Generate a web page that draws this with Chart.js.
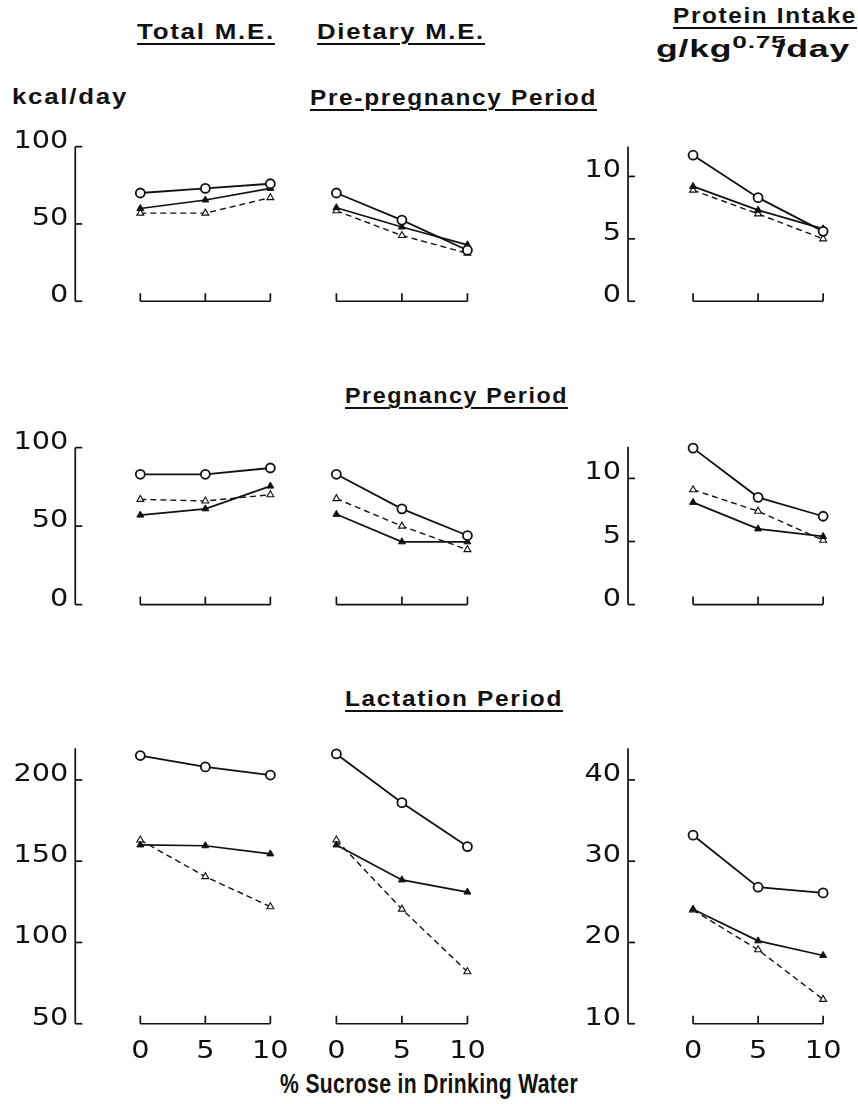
<!DOCTYPE html>
<html>
<head>
<meta charset="utf-8">
<script src="https://cdn.jsdelivr.net/npm/chart.js@4.4.1/dist/chart.umd.min.js"></script>
<style>
body{margin:0;background:#fff;width:858px;height:1104px;position:relative;overflow:hidden;
  font-family:"Liberation Sans","DejaVu Sans",sans-serif;font-weight:bold;color:#111}
.t{position:absolute;white-space:nowrap;line-height:1;transform-origin:0 0}
.u{text-decoration:underline;text-decoration-thickness:2px;text-underline-offset:4px}
canvas{position:absolute;left:0}
sup{font-size:17px;position:relative;top:-4px;vertical-align:top;margin-right:-7px}
</style>
</head>
<body>
<div class="t u" data-w="138" data-ls="1.5" style="left:137px;top:21px;font-size:22px">Total M.E.</div>
<div class="t u" data-w="168" data-ls="1.5" style="left:317px;top:21px;font-size:22px">Dietary M.E.</div>
<div class="t u" data-w="184" data-ls="1.5" style="left:673px;top:5px;font-size:22px">Protein Intake</div>
<div class="t" data-w="194" data-ls="0.5" style="left:656px;top:38px;font-size:23px">g/kg<sup>0.75</sup>/day</div>
<div class="t" data-w="116" data-ls="1.5" style="left:12px;top:86px;font-size:22px">kcal/day</div>
<div class="t u" data-w="287" data-ls="1.5" style="left:310px;top:87px;font-size:22px">Pre-pregnancy Period</div>
<div class="t u" data-w="223" data-ls="1.5" style="left:345px;top:385px;font-size:22px">Pregnancy Period</div>
<div class="t u" data-w="218" data-ls="1.5" style="left:345px;top:688px;font-size:22px">Lactation Period</div>
<div class="t" data-w="298" data-ls="0.5" style="left:280px;top:1070px;font-size:28px">% Sucrose in Drinking Water</div>

<canvas id="row1" width="858" height="200" style="top:120px"></canvas>
<canvas id="row2" width="858" height="205" style="top:420px"></canvas>
<canvas id="row3" width="858" height="340" style="top:730px"></canvas>

<script>
// % sucrose in drinking water
var sucrose = [0, 5, 10]

// Pre-pregnancy period
var preTotalCtrl   = [70, 73, 76]
var preTotalFilled = [60, 65.5, 73]
var preTotalOpen   = [57, 57, 67]
var preDietCtrl    = [70, 52.5, 33]
var preDietFilled  = [60.5, 48, 36.5]
var preDietOpen    = [58.5, 42.5, 31]
var preProtCtrl    = [11.7, 8.3, 5.6]
var preProtFilled  = [9.2, 7.3, 5.8]
var preProtOpen    = [8.9, 7.0, 5.0]

// Pregnancy period
var pregTotalCtrl   = [83, 83, 87]
var pregTotalFilled = [57, 61, 75.5]
var pregTotalOpen   = [67, 66, 70]
var pregDietCtrl    = [83, 61, 44]
var pregDietFilled  = [57.5, 40, 40]
var pregDietOpen    = [67.5, 50, 35]
var pregProtCtrl    = [12.4, 8.5, 7.0]
var pregProtFilled  = [8.1, 6.0, 5.4]
var pregProtOpen    = [9.1, 7.4, 5.1]

// Lactation period
var lacTotalCtrl   = [215, 208, 203]
var lacTotalFilled = [160, 159.5, 154.5]
var lacTotalOpen   = [163, 140.5, 122]
var lacDietCtrl    = [216, 186, 159]
var lacDietFilled  = [160, 138.5, 131]
var lacDietOpen    = [163, 120.5, 82]
var lacProtCtrl    = [33.2, 26.8, 26.1]
var lacProtFilled  = [24.1, 20.2, 18.4]
var lacProtOpen    = [24.0, 19.1, 13.0]

// tick labels
var kcalTicks  = [0, 50, 100]
var protTicks  = [0, 5, 10]
var kcalTicks3 = [50, 100, 150, 200]
var protTicks3 = [10, 20, 30, 40]
var xTickLabels = ["0", "5", "10"]

var INK = "#111"
var W = 858

// fit headings to the widths of the printed lettering
document.querySelectorAll(".t").forEach(function(el){
  el.style.letterSpacing = el.dataset.ls + "px"
  var w = el.getBoundingClientRect().width
  el.style.transform = "scaleX(" + (el.dataset.w / w) + ")"
})

var styles = {
  ctrl:   {borderColor: INK, borderWidth: 1.8, pointStyle: "circle", pointRadius: 4.5,
           pointBorderWidth: 1.8, pointBackgroundColor: "#fff", pointBorderColor: INK},
  filled: {borderColor: INK, borderWidth: 1.7, pointStyle: "triangle", pointRadius: 4,
           pointBorderWidth: 1, pointBackgroundColor: INK, pointBorderColor: INK},
  open:   {borderColor: INK, borderWidth: 1.4, borderDash: [6, 4], pointStyle: "triangle", pointRadius: 4,
           pointBorderWidth: 1.1, pointBackgroundColor: "#fff", pointBorderColor: INK}
}

function series(vals, kind, xID, yID){
  var d = {
    data: sucrose.map(function(s, i){ return {x: s, y: vals[i]} }),
    xAxisID: xID, yAxisID: yID, clip: false, tension: 0, fill: false
  }
  return Object.assign(d, styles[kind])
}

// value/pixel anchors -> min/max so the hidden scales fill the canvas
function xRange(a, b){
  var unit = (b[1] - a[1]) / (b[0] - a[0])
  return {min: a[0] - a[1] / unit, max: a[0] + (W - a[1]) / unit}
}
function yRange(H, top, a, b){
  var unit = (a[1] - b[1]) / (b[0] - a[0])
  var p0 = a[1] - top
  return {min: a[0] - (H - p0) / unit, max: a[0] + p0 / unit}
}

function wideText(ctx, txt, x, y, align){
  // the printed digits are rounder/wider than DejaVu, stretch them a bit
  var sx = 1.15
  var w = ctx.measureText(txt).width * sx
  var left = align == "right" ? x - w : align == "center" ? x - w / 2 : x
  ctx.save()
  ctx.textAlign = "left"
  ctx.translate(left, y)
  ctx.scale(sx, 1)
  ctx.fillText(txt, 0, 0)
  ctx.restore()
}

var panelAxes = {
  id: "panelAxes",
  afterDatasetsDraw: function(chart, args, o){
    var ctx = chart.ctx
    ctx.save()
    ctx.strokeStyle = INK
    ctx.fillStyle = INK
    ctx.lineWidth = 1.7
    ctx.textBaseline = "alphabetic"
    o.axes.forEach(function(a){
      var ys = chart.scales[a.y], xs = chart.scales[a.x]
      var ax = xs.getPixelForValue(-5)
      var yb = ys.getPixelForValue(a.ticks[0]), yt = ys.getPixelForValue(a.top)
      ctx.beginPath(); ctx.moveTo(ax, yb); ctx.lineTo(ax, yt); ctx.stroke()
      ctx.font = "25px 'DejaVu Sans'"
      a.ticks.forEach(function(t){
        var py = ys.getPixelForValue(t)
        ctx.beginPath(); ctx.moveTo(ax, py); ctx.lineTo(ax + 7, py); ctx.stroke()
        wideText(ctx, String(t), ax - 7, py + 1, "right")
      })
    })
    var by = chart.scales[o.base.y].getPixelForValue(o.base.v)
    o.panels.forEach(function(id){
      var xs = chart.scales[id]
      var x0 = xs.getPixelForValue(sucrose[0]), x1 = xs.getPixelForValue(sucrose[sucrose.length - 1])
      ctx.beginPath(); ctx.moveTo(x0, by); ctx.lineTo(x1, by); ctx.stroke()
      sucrose.forEach(function(s, i){
        var px = xs.getPixelForValue(s)
        ctx.beginPath(); ctx.moveTo(px, by); ctx.lineTo(px, by - 8); ctx.stroke()
        if (o.xLabels){
          ctx.font = "25px 'DejaVu Sans'"
          wideText(ctx, xTickLabels[i], px, by + 34, "center")
        }
      })
    })
    ctx.restore()
  }
}

function makeRow(id, top, H, kA, kB, pA, pB, sets, axes, base, xLabels){
  var k = yRange(H, top, kA, kB), p = yRange(H, top, pA, pB)
  var xT = xRange([0, 136], [10, 268]), xD = xRange([0, 335], [10, 468]), xP = xRange([0, 697], [10, 829])
  var hidden = function(r){ return {type: "linear", display: false, min: r.min, max: r.max} }
  new Chart(document.getElementById(id), {
    type: "line",
    data: {datasets: sets},
    options: {
      responsive: false, animation: false, events: [],
      layout: {padding: 0},
      scales: {xT: hidden(xT), xD: hidden(xD), xP: hidden(xP), yK: hidden(k), yP: hidden(p)},
      plugins: {legend: {display: false}, tooltip: {enabled: false},
        panelAxes: {axes: axes, panels: ["xT", "xD", "xP"], base: base, xLabels: xLabels}}
    },
    plugins: [panelAxes]
  })
}

function rowSets(tc, tf, to, dc, df, dd, pc, pf, po){
  return [
    series(tc, "ctrl", "xT", "yK"), series(tf, "filled", "xT", "yK"), series(to, "open", "xT", "yK"),
    series(dc, "ctrl", "xD", "yK"), series(df, "filled", "xD", "yK"), series(dd, "open", "xD", "yK"),
    series(pc, "ctrl", "xP", "yP"), series(pf, "filled", "xP", "yP"), series(po, "open", "xP", "yP")
  ]
}

makeRow("row1", 120, 200, [0, 306.7], [100, 141.7], [0, 306.7], [10, 173.5],
  rowSets(preTotalCtrl, preTotalFilled, preTotalOpen, preDietCtrl, preDietFilled, preDietOpen,
          preProtCtrl, preProtFilled, preProtOpen),
  [{y: "yK", x: "xT", ticks: kcalTicks, top: 100}, {y: "yP", x: "xP", ticks: protTicks, top: 12.4}],
  {y: "yK", v: 0}, false)

makeRow("row2", 420, 205, [0, 610], [100, 442.7], [0, 610], [10, 475.5],
  rowSets(pregTotalCtrl, pregTotalFilled, pregTotalOpen, pregDietCtrl, pregDietFilled, pregDietOpen,
          pregProtCtrl, pregProtFilled, pregProtOpen),
  [{y: "yK", x: "xT", ticks: kcalTicks, top: 100}, {y: "yP", x: "xP", ticks: protTicks, top: 12.5}],
  {y: "yK", v: 0}, false)

makeRow("row3", 730, 340, [50, 1028.5], [200, 775.3], [10, 1028.5], [40, 775.3],
  rowSets(lacTotalCtrl, lacTotalFilled, lacTotalOpen, lacDietCtrl, lacDietFilled, lacDietOpen,
          lacProtCtrl, lacProtFilled, lacProtOpen),
  [{y: "yK", x: "xT", ticks: kcalTicks3, top: 219.5}, {y: "yP", x: "xP", ticks: protTicks3, top: 43.9}],
  {y: "yK", v: 50}, true)
</script>
</body>
</html>
